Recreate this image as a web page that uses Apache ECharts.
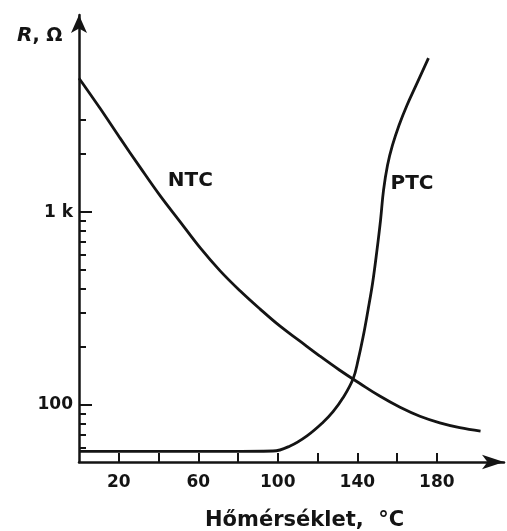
<!DOCTYPE html>
<html>
<head>
<meta charset="utf-8">
<script src="https://cdn.jsdelivr.net/npm/echarts@6/dist/echarts.min.js"></script>
<style>
  html, body { margin: 0; padding: 0; background: #fff; }
  #chart { width: 507px; height: 531px; }
</style>
</head>
<body>
<div id="chart"></div>
<script>
// temperature (°C) and resistance (Ω)
var ntcTemp = [0, 10.5, 20.5, 30.5, 40.5, 51, 61, 71, 81, 91, 101, 111, 121, 131, 141.5, 151.5, 161.5, 171.5, 181.5, 191.5, 202];
var ntcR    = [4940, 3460, 2430, 1720, 1228, 888, 652, 496, 391, 315, 257, 215, 180, 152, 129, 111, 97.4, 87.5, 80.9, 76.4, 73.3];

var ptcTemp = [0, 25, 50, 75, 97.6, 106.2, 114.7, 122.8, 127.8, 132.8, 137.9, 140.4, 142.9, 145.4, 147.7, 149.9, 151.7, 153.2, 155.2, 157.7, 161, 165, 169.6, 175.8];
var ptcR    = [57.5, 57.5, 57.5, 57.5, 57.8, 61.4, 69.3, 81.5, 92.4, 109, 137, 171, 225, 311, 429, 635, 909, 1300, 1750, 2220, 2820, 3580, 4550, 6280];

var xTicks = [20, 40, 60, 80, 100, 120, 140, 160, 180];
var xLabels = [20, 60, 100, 140, 180];
var yMajor = [100, 1000];
var yMinor = [60, 70, 80, 90, 200, 300, 400, 500, 600, 700, 800, 900, 2000, 3000];

var ink = '#141414';
var font = 'DejaVu Sans';

function pairs(xs, ys) {
  return xs.map(function (x, i) { return [x, ys[i]]; });
}

var chart = echarts.init(document.getElementById('chart'));

var yBase = {
  type: 'log',
  min: 50.7,
  max: 10500,
  position: 'left',
  splitLine: { show: false }
};

function curveLabel(text, at) {
  return {
    symbol: 'circle', symbolSize: 1,
    itemStyle: { color: 'rgba(0,0,0,0)' },
    label: { show: true, position: 'inside', formatter: text, fontFamily: font, fontSize: 20, fontWeight: 'bold', color: ink },
    data: [{ coord: at }]
  };
}

chart.setOption({
  animation: false,
  backgroundColor: '#ffffff',
  title: [
    {
      text: 'Hőmérséklet,  °C',
      left: 200, top: 505,
      textStyle: { fontFamily: font, fontSize: 21, fontWeight: 'bold', color: ink }
    },
    {
      text: '{r|R}, Ω',
      left: 12, top: 21,
      textStyle: {
        fontFamily: font, fontSize: 19, fontWeight: 'bold', color: ink,
        rich: { r: { fontFamily: font, fontSize: 20, fontWeight: 'bold', fontStyle: 'italic', color: ink } }
      }
    }
  ],
  grid: { left: 79, right: 3, top: 15, bottom: 69 },
  xAxis: {
    type: 'value',
    min: 0,
    max: 213.8,
    splitLine: { show: false },
    axisLine: {
      lineStyle: { color: ink, width: 2.5 },
      symbol: ['none', 'arrow'],
      symbolSize: [11, 22]
    },
    axisTick: {
      inside: true, length: 9, customValues: xTicks,
      lineStyle: { color: ink, width: 2 }
    },
    axisLabel: {
      customValues: xLabels, margin: 12,
      fontFamily: font, fontSize: 17, fontWeight: 'bold', color: ink
    }
  },
  yAxis: [
    Object.assign({}, yBase, {
      axisLine: {
        show: true,
        lineStyle: { color: ink, width: 2.5 },
        symbol: ['none', 'arrow'],
        symbolSize: [12, 18]
      },
      axisTick: {
        inside: true, length: 13, customValues: yMajor,
        lineStyle: { color: ink, width: 2 }
      },
      axisLabel: {
        customValues: yMajor, margin: 6,
        fontFamily: font, fontSize: 17, fontWeight: 'bold', color: ink,
        formatter: function (v) { return v >= 1000 ? (v / 1000) + ' k' : String(v); }
      }
    }),
    Object.assign({}, yBase, {
      axisLine: { show: false },
      axisTick: {
        inside: true, length: 7, customValues: yMinor,
        lineStyle: { color: ink, width: 2 }
      },
      axisLabel: { show: false }
    })
  ],
  series: [
    {
      name: 'NTC',
      type: 'line',
      data: pairs(ntcTemp, ntcR),
      smooth: 0.4,
      showSymbol: false,
      lineStyle: { color: ink, width: 2.8 },
      markPoint: curveLabel('NTC', [56, 1450])
    },
    {
      name: 'PTC',
      type: 'line',
      data: pairs(ptcTemp, ptcR),
      smooth: 0.4,
      showSymbol: false,
      lineStyle: { color: ink, width: 2.8 },
      markPoint: curveLabel('PTC', [167.5, 1400])
    }
  ]
});
</script>
</body>
</html>
